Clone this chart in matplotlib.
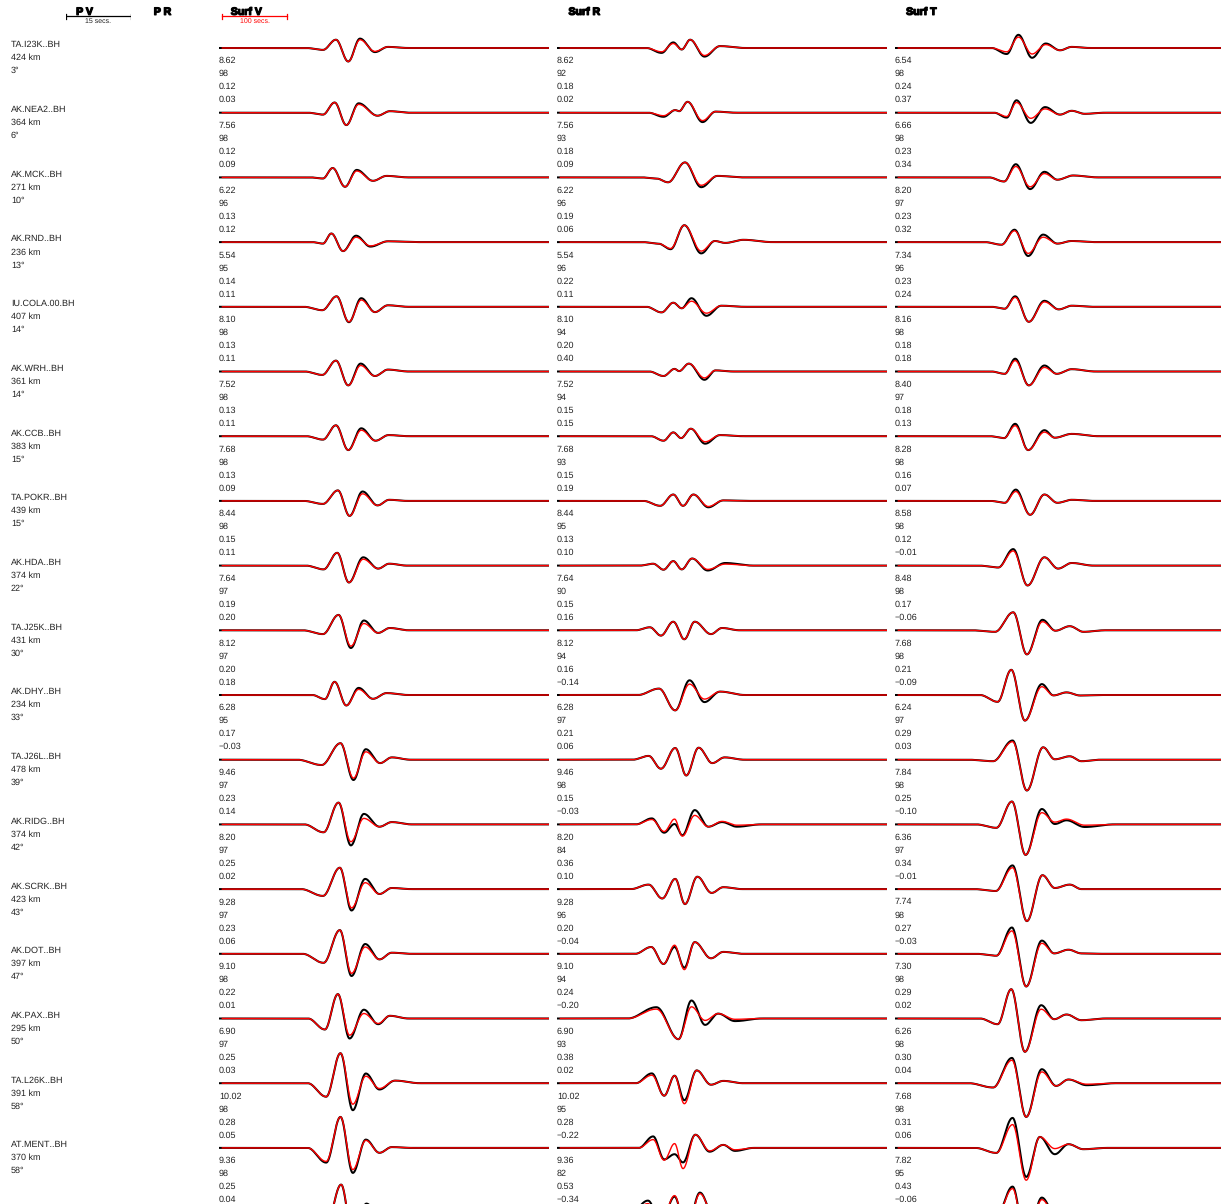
import numpy as np
import matplotlib
matplotlib.use("Agg")
import matplotlib.pyplot as plt
import matplotlib.patheffects as pe

plt.rcParams['font.family'] = ['Liberation Sans', 'DejaVu Sans']
plt.rcParams['text.hinting'] = 'no_hinting'
plt.rcParams['text.hinting_factor'] = 1

# station info
STATIONS = ["TA.I23K..BH", "AK.NEA2..BH", "AK.MCK..BH", "AK.RND..BH", "IU.COLA.00.BH",
            "AK.WRH..BH", "AK.CCB..BH", "TA.POKR..BH", "AK.HDA..BH", "TA.J25K..BH",
            "AK.DHY..BH", "TA.J26L..BH", "AK.RIDG..BH", "AK.SCRK..BH", "AK.DOT..BH",
            "AK.PAX..BH", "TA.L26K..BH", "AT.MENT..BH"]
DIST_KM = [424, 364, 271, 236, 407, 361, 383, 439, 374, 431, 234, 478, 374, 423, 397, 295, 391, 370]
AZ_DEG = [3, 6, 10, 13, 14, 14, 15, 15, 22, 30, 33, 39, 42, 43, 47, 50, 58, 58]

# per-trace numbers printed under each waveform
V_STATS = [(8.62, 98, 0.12, 0.03), (7.56, 98, 0.12, 0.09), (6.22, 96, 0.13, 0.12), (5.54, 95, 0.14, 0.11),
           (8.10, 98, 0.13, 0.11), (7.52, 98, 0.13, 0.11), (7.68, 98, 0.13, 0.09), (8.44, 98, 0.15, 0.11),
           (7.64, 97, 0.19, 0.20), (8.12, 97, 0.20, 0.18), (6.28, 95, 0.17, -0.03), (9.46, 97, 0.23, 0.14),
           (8.20, 97, 0.25, 0.02), (9.28, 97, 0.23, 0.06), (9.10, 98, 0.22, 0.01), (6.90, 97, 0.25, 0.03),
           (10.02, 98, 0.28, 0.05), (9.36, 98, 0.25, 0.04)]
R_STATS = [(8.62, 92, 0.18, 0.02), (7.56, 93, 0.18, 0.09), (6.22, 96, 0.19, 0.06), (5.54, 96, 0.22, 0.11),
           (8.10, 94, 0.20, 0.40), (7.52, 94, 0.15, 0.15), (7.68, 93, 0.15, 0.19), (8.44, 95, 0.13, 0.10),
           (7.64, 90, 0.15, 0.16), (8.12, 94, 0.16, -0.14), (6.28, 97, 0.21, 0.06), (9.46, 98, 0.15, -0.03),
           (8.20, 84, 0.36, 0.10), (9.28, 96, 0.20, -0.04), (9.10, 94, 0.24, -0.20), (6.90, 93, 0.38, 0.02),
           (10.02, 95, 0.28, -0.22), (9.36, 82, 0.53, -0.34)]
T_STATS = [(6.54, 98, 0.24, 0.37), (6.66, 98, 0.23, 0.34), (8.20, 97, 0.23, 0.32), (7.34, 96, 0.23, 0.24),
           (8.16, 98, 0.18, 0.18), (8.40, 97, 0.18, 0.13), (8.28, 98, 0.16, 0.07), (8.58, 98, 0.12, -0.01),
           (8.48, 98, 0.17, -0.06), (7.68, 98, 0.21, -0.09), (6.24, 97, 0.29, 0.03), (7.84, 98, 0.25, -0.10),
           (6.36, 97, 0.34, -0.01), (7.74, 98, 0.27, -0.03), (7.30, 98, 0.29, 0.02), (6.26, 98, 0.30, 0.04),
           (7.68, 98, 0.31, 0.06), (7.82, 95, 0.43, -0.06)]

# waveform extrema: times (s from window start), observed / synthetic amplitudes
V_T = [[160, 180, 199, 217, 240, 260], [160, 178, 196, 215, 244, 263], [160, 175, 194, 212, 237, 258],
       [160, 173, 191, 211, 233, 260], [159, 181, 200, 219, 240, 260], [159, 180, 199, 218, 240, 260],
       [160, 180, 199, 219, 241, 261], [160, 183, 201, 221, 244, 262], [161, 182, 200, 222, 245, 262],
       [160, 184, 203, 223, 245, 263], [163, 178, 196, 215, 237, 258], [158, 187, 207, 226, 248, 266],
       [161, 184, 203, 223, 247, 266], [160, 186, 204, 225, 247, 266], [161, 186, 204, 225, 247, 266],
       [163, 183, 201, 223, 245, 263], [165, 187, 206, 226, 247, 271], [165, 187, 206, 226, 247, 266],
       [165, 188, 206, 227, 248, 267]]
V_OBS = [[-1.9, 8.3, -13.5, 9.4, -4.1, 1.1], [-1.9, 10.2, -12.4, 9.4, -3.0, 1.5], [-1.1, 9.4, -9.4, 7.5, -3.4, 1.5],
         [-1.5, 8.6, -9.0, 6.4, -4.5, 0.8], [-3.4, 10.5, -15.4, 8.6, -5.3, 1.5], [-3.4, 10.9, -13.9, 7.9, -4.5, 1.9],
         [-3.4, 10.9, -13.9, 7.9, -4.5, 1.1], [-3.0, 10.5, -15.0, 9.4, -4.5, 1.1], [-3.8, 12.8, -16.9, 8.3, -3.0, 1.9],
         [-3.8, 15.4, -17.7, 9.8, -2.6, 2.3], [-4.1, 13.2, -10.5, 7.1, -3.8, 1.9], [-5.3, 16.5, -20.3, 10.5, -3.4, 2.3],
         [-7.9, 21.8, -21.0, 10.5, -2.3, 2.3], [-6.8, 21.4, -21.4, 10.2, -4.9, 1.1], [-9.0, 23.7, -22.2, 9.8, -5.6, 1.1],
         [-11.0, 24.4, -20.0, 8.8, -5.7, 2.7], [-13.5, 30.0, -27.0, 9.7, -6.3, 2.6], [-14.7, 31.0, -25.0, 8.3, -4.9, 0.8],
         [-13.0, 28.0, -24.0, 9.0, -5.0, 1.5]]
V_SYN = [[-1.9, 8.3, -13.5, 8.3, -3.4, 1.1], [-1.9, 10.2, -12.4, 8.3, -3.0, 1.5], [-1.1, 9.4, -9.4, 6.4, -3.4, 1.5],
         [-1.5, 8.6, -9.0, 4.9, -3.8, 0.8], [-3.4, 10.5, -15.0, 6.8, -5.3, 1.5], [-3.4, 10.9, -13.9, 6.0, -4.5, 1.9],
         [-3.4, 10.9, -13.9, 6.0, -4.5, 1.1], [-3.0, 10.5, -15.0, 7.1, -4.5, 1.1], [-3.8, 12.8, -16.9, 6.4, -3.0, 1.9],
         [-3.8, 15.4, -15.8, 6.8, -2.6, 2.3], [-4.1, 13.2, -10.5, 5.6, -3.8, 1.9], [-5.3, 16.5, -18.4, 7.9, -3.4, 2.3],
         [-7.9, 21.8, -17.3, 6.0, -2.3, 2.3], [-6.8, 21.4, -18.8, 6.4, -4.9, 1.1], [-9.0, 23.7, -19.5, 6.8, -5.6, 1.1],
         [-11.0, 24.4, -16.7, 5.0, -5.0, 2.7], [-13.5, 30.0, -21.0, 7.0, -5.3, 2.6], [-13.5, 31.0, -21.7, 7.5, -4.9, 0.8],
         [-13.0, 28.0, -22.0, 7.0, -5.0, 1.5]]

R_T = [[161, 179, 192, 205, 227, 251], [164, 182, 188, 201, 224, 244], [153, 171, 197, 222, 247],
       [156, 175, 196, 222, 243, 259, 287], [161, 179, 192, 207, 230, 253], [164, 181, 188, 203, 227, 244],
       [164, 179, 191, 206, 228, 251], [159, 179, 194, 210, 233, 256], [148, 164, 179, 192, 208, 232, 259],
       [143, 160, 179, 196, 212, 237, 254], [157, 182, 204, 227, 251], [141, 160, 182, 199, 218, 239, 258],
       [146, 165, 181, 193, 212, 233, 254, 277], [141, 162, 182, 197, 216, 238, 256],
       [145, 164, 181, 196, 212, 237, 256], [153, 187, 207, 228, 248, 274],
       [146, 165, 181, 196, 215, 237, 256], [148, 165, 181, 194, 213, 235, 256, 274],
       [140, 160, 181, 199, 220, 242, 260]]
R_OBS = [[-4.9, 5.6, -1.5, 8.3, -8.6, 1.9], [-4.1, 2.6, 1.5, 10.9, -9.4, 1.1], [-1.1, -4.9, 15.0, -9.8, 1.5],
         [-1.5, -7.1, 16.9, -11.3, 1.1, -0.8, 2.3], [-5.6, 4.1, -1.5, 8.6, -9.0, 1.1], [-4.5, 2.6, 0.4, 7.9, -8.3, 1.1],
         [-4.5, 3.8, -1.9, 7.5, -7.5, 1.1], [-4.9, 6.4, -4.9, 6.4, -6.4, 0.5], [1.9, -4.1, 4.5, -3.8, 7.1, -4.9, 2.6],
         [3.0, -5.3, 8.6, -9.0, 8.6, -3.8, 2.3], [6.4, -15.4, 14.7, -7.1, 3.4], [3.8, -9.0, 11.7, -15.8, 12.0, -3.4, 2.3],
         [6.0, -8.3, 0.4, -10.9, 14.3, -2.3, 2.3, -2.3], [4.5, -9.4, 10.2, -15.0, 12.4, -3.8, 1.9],
         [6.8, -10.2, 6.8, -13.9, 11.7, -4.5, 1.9], [11.3, -20.7, 18.0, -6.4, 4.9, -2.6],
         [9.8, -12.5, 7.5, -17.0, 12.8, -1.5, 2.3], [11.5, -11.5, -6.3, -14.5, 13.2, -3.8, 3.0, -3.0],
         [12.0, -10.0, 16.0, -19.0, 20.0, -5.0, 2.0]]
R_SYN = [[-3.8, 4.5, -1.5, 8.3, -7.5, 1.9], [-3.0, 2.6, 1.5, 10.9, -7.9, 1.1], [-1.1, -4.9, 15.0, -7.9, 1.5],
         [-1.5, -6.4, 16.9, -9.0, 1.1, -0.8, 2.3], [-5.6, 4.1, -1.5, 5.6, -6.4, 1.1], [-4.5, 2.6, 0.4, 7.9, -6.4, 1.1],
         [-4.5, 3.8, -1.9, 7.5, -5.6, 1.1], [-4.9, 6.4, -4.9, 6.4, -5.6, 0.5], [1.9, -4.1, 4.5, -3.8, 7.1, -3.8, 1.5],
         [3.0, -5.3, 8.6, -9.0, 8.6, -3.8, 2.3], [6.4, -15.4, 10.9, -4.1, 3.4], [3.8, -9.0, 11.7, -15.8, 12.0, -3.4, 2.3],
         [4.9, -7.1, 5.3, -11.7, 9.0, -2.3, 3.0, -0.8], [4.5, -9.4, 10.2, -15.0, 12.4, -3.8, 1.9],
         [6.8, -10.2, 8.6, -15.8, 11.7, -4.5, 1.9], [9.4, -20.7, 11.7, -1.9, 4.9, -0.8],
         [8.0, -12.5, 7.5, -20.5, 12.8, -1.5, 2.3], [8.3, -12.3, 4.3, -20.7, 13.2, -3.0, 3.0, -1.9],
         [9.0, -10.0, 17.0, -21.0, 19.0, -4.0, 2.0]]

T_T = [[172, 190, 211, 232, 254, 272], [172, 187, 209, 231, 254, 272, 292], [168, 186, 208, 230, 250, 274],
       [164, 184, 205, 228, 250, 272], [169, 185, 206, 230, 252, 272], [169, 185, 206, 230, 249, 272],
       [168, 185, 205, 230, 246, 272], [169, 186, 208, 230, 250, 272], [159, 182, 204, 230, 251, 272],
       [154, 182, 203, 227, 247, 269, 290], [158, 179, 200, 226, 244, 264, 285], [151, 181, 203, 228, 246, 269, 287],
       [156, 180, 201, 226, 246, 264, 292], [155, 181, 203, 227, 246, 269, 287], [156, 180, 202, 226, 245, 267, 287],
       [158, 179, 200, 225, 245, 264, 287], [151, 180, 202, 226, 248, 267, 295], [156, 181, 202, 223, 246, 267, 290],
       [156, 181, 202, 226, 246, 267]]
T_OBS = [[-6.0, 13.2, -9.8, 4.5, -2.3, 1.1], [-4.9, 12.4, -10.2, 5.6, -1.9, 1.9, -1.1], [-4.1, 13.2, -11.7, 5.6, -2.3, 1.9],
         [-2.6, 12.4, -13.9, 7.5, -1.5, 1.1], [-1.9, 10.5, -15.0, 6.0, -2.6, 1.1], [-2.3, 12.8, -13.9, 6.0, -2.3, 2.3],
         [-1.9, 12.4, -13.9, 6.0, -1.5, 2.3], [-1.9, 11.3, -13.9, 6.4, -1.9, 1.1], [-1.9, 16.5, -19.9, 8.3, -3.0, 2.6],
         [-1.5, 18.0, -24.1, 10.5, -0.4, 4.1, -1.5], [-6.8, 25.2, -25.6, 10.9, -0.4, 2.6, -0.5],
         [-1.5, 19.2, -30.8, 12.4, 0.4, 3.4, -1.5], [-3.4, 22.9, -30.5, 15.4, 0.4, 4.1, -2.6],
         [-1.9, 23.7, -32.0, 13.9, 1.1, 4.5, 0.0], [-1.9, 26.3, -32.7, 13.2, 0.4, 4.1, 0.4],
         [-5.7, 29.3, -33.3, 13.3, -0.7, 4.0, -1.7], [-4.3, 25.3, -33.7, 14.0, -2.7, 3.7, -2.0],
         [-5.0, 30.0, -29.0, 11.0, -6.3, 3.7, -1.3], [-4.0, 26.0, -32.0, 15.0, -1.0, 3.0]]
T_SYN = [[-3.8, 10.9, -6.0, 3.4, -2.3, 1.1], [-3.8, 10.2, -5.6, 3.8, -1.9, 1.9, -1.1], [-4.1, 10.9, -9.4, 3.8, -2.3, 1.9],
         [-2.6, 11.3, -11.3, 4.9, -1.5, 1.1], [-1.9, 9.4, -15.0, 4.9, -2.6, 1.1], [-2.3, 10.9, -13.9, 4.1, -2.3, 2.3],
         [-1.9, 10.5, -13.9, 4.1, -1.5, 2.3], [-1.9, 9.4, -13.9, 6.4, -1.9, 1.1], [-1.9, 14.7, -19.9, 8.3, -3.0, 2.6],
         [-1.5, 18.0, -24.1, 8.6, -0.4, 4.1, -1.5], [-6.8, 25.2, -25.6, 8.3, -0.4, 2.6, -0.5],
         [-1.5, 18.0, -30.8, 12.4, 0.4, 3.4, -1.5], [-3.4, 22.9, -30.5, 11.7, 2.3, 5.3, -0.8],
         [-1.9, 21.4, -32.0, 13.9, 1.1, 4.5, 0.0], [-1.9, 22.9, -32.7, 10.5, 0.4, 4.1, 0.4],
         [-5.7, 29.3, -33.3, 9.3, -0.7, 4.0, -1.7], [-4.3, 23.0, -33.7, 11.3, -2.7, 3.7, -1.0],
         [-5.0, 23.3, -32.3, 11.0, -0.7, 3.7, -1.3], [-4.0, 24.0, -32.0, 13.0, -1.0, 3.0]]

# layout (pixels of a 1221x1204 canvas)
W, H = 1221, 1204
ROW0 = 48          # baseline of first row
GAP = 64.7         # row spacing
LINE = 13          # text line spacing
COL_X = [219, 557, 895]
COL_W = 330
WIN = 508          # seconds shown per window (65 px = 100 s)
FS = 6.8


def wiggle(t, kt, ka):
    """smooth half-cosine path through the picked extrema, flat zero outside"""
    kt = [kt[0] - 1.3 * (kt[1] - kt[0])] + list(kt) + [kt[-1] + 1.6 * (kt[-1] - kt[-2])]
    ka = [0.0] + list(ka) + [0.0]
    y = np.zeros_like(t)
    for i in range(len(kt) - 1):
        m = (t >= kt[i]) & (t <= kt[i + 1])
        u = (t[m] - kt[i]) / (kt[i + 1] - kt[i])
        y[m] = ka[i] + (ka[i + 1] - ka[i]) * (1 - np.cos(np.pi * u)) / 2
    return y


def fmt(v):
    return f"{v:.2f}".replace('-', '\u2212')


fig = plt.figure(figsize=(W / 100, H / 100), dpi=100, facecolor='white')


def px_axes(x, w):
    ax = fig.add_axes([x / W, 0, w / W, 1])
    ax.set_ylim(-(H - ROW0), ROW0)
    ax.axis('off')
    return ax


t = np.linspace(0, WIN, 1500)
columns = [(V_T, V_OBS, V_SYN, V_STATS), (R_T, R_OBS, R_SYN, R_STATS), (T_T, T_OBS, T_SYN, T_STATS)]
col_axes = []
for c, (kts, obs, syn, stats) in enumerate(columns):
    ax = px_axes(COL_X[c], COL_W)
    ax.set_xlim(0, WIN)
    col_axes.append(ax)
    for i in range(len(kts)):
        base = -i * GAP
        ax.plot(t, base + wiggle(t, kts[i], obs[i]), color='black', lw=1.45, solid_capstyle='butt')
        ts = t[t > 4]
        ax.plot(ts, base + wiggle(ts, kts[i], syn[i]), color='#ff0000', lw=1.0, solid_capstyle='butt')
    for i, vals in enumerate(stats):
        y0 = ROW0 + i * GAP
        texts = [fmt(vals[0]), str(vals[1]), fmt(vals[2]), fmt(vals[3])]
        for k, s in enumerate(texts):
            fig.text(COL_X[c] / W, 1 - (y0 + LINE * (k + 1)) / H, s, fontsize=FS,
                     ha='left', va='center', color='#222222')

# station labels
for i, name in enumerate(STATIONS):
    y0 = ROW0 + i * GAP - 3
    for k, s in enumerate([name, f"{DIST_KM[i]} km", f"{AZ_DEG[i]}\u00b0"]):
        fig.text(11 / W, 1 - (y0 + LINE * k) / H, s, fontsize=FS, ha='left', va='center', color='#222222')

# column titles (heavy, overstruck look)
heavy = [pe.withStroke(linewidth=0.9, foreground='black')]
for x, s in [(85, "P V"), (163, "P R"), (247, "Surf V"), (585, "Surf R"), (922, "Surf T")]:
    fig.text(x / W, 1 - 12 / H, s, fontsize=7.6, fontweight='bold', ha='center', va='center',
             path_effects=heavy)

# scale bars: 15 s for body waves, 100 s for surface waves
pax = px_axes(66, 65)
pax.set_xlim(0, 15)
pax.plot([0, 15], [ROW0 - 16] * 2, color='black', lw=0.9)
for xb in (0, 15):
    pax.plot([xb, xb], [ROW0 - 13.5, ROW0 - 18.5], color='black', lw=0.9)
pax.text(7.5, ROW0 - 21.5, "15 secs.", fontsize=4.8, ha='center', va='center', color='#222222')

sax = col_axes[0]
x0 = 3 * 100 / 65
sax.plot([x0, x0 + 100], [ROW0 - 16] * 2, color='#ff0000', lw=0.9)
for xb in (x0, x0 + 100):
    sax.plot([xb, xb], [ROW0 - 13.5, ROW0 - 18.5], color='#ff0000', lw=0.9)
sax.text(x0 + 50, ROW0 - 21.5, "100 secs.", fontsize=4.8, ha='center', va='center', color='#ff0000')

fig.savefig("out.png", dpi=100, facecolor='white')
